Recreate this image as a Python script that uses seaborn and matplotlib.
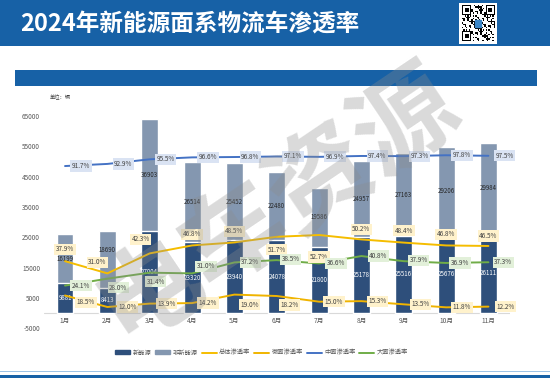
import numpy as np
import pandas as pd
import matplotlib
matplotlib.use('Agg')
import matplotlib.pyplot as plt
from matplotlib.patches import Rectangle, Patch
from matplotlib.lines import Line2D
import seaborn as sns

# ---------------- data ----------------
months = ['1月', '2月', '3月', '4月', '5月', '6月', '7月', '8月', '9月', '10月', '11月']
new_energy = [9881, 8413, 27004, 23320, 23940, 24078, 21800, 25178, 25516, 25676, 26111]
non_new_energy = [16199, 18690, 36903, 26514, 25452, 22480, 19586, 24957, 27163, 29206, 29984]
rate_total = [37.9, 31.0, 42.3, 46.8, 48.5, 51.7, 52.7, 50.2, 48.4, 46.8, 46.5]
rate_micro = [18.5, 12.0, 13.9, 14.2, 19.0, 18.2, 15.0, 15.3, 13.5, 11.8, 12.2]
rate_mid = [91.7, 92.9, 95.5, 96.6, 96.8, 97.1, 96.9, 97.4, 97.3, 97.8, 97.5]
rate_large = [24.1, 28.0, 31.4, 31.0, 37.2, 38.5, 36.6, 40.8, 37.9, 36.9, 37.3]
yticks = [-5000, 5000, 15000, 25000, 35000, 45000, 55000, 65000]
legend_labels = ['新能源', '非新能源', '总体渗透率', '微面渗透率', '中面渗透率', '大面渗透率']
title = '2024年新能源面系物流车渗透率'
unit = '单位：辆'
watermark = '电车资源'

# label offsets in pixels (dx right, dy up)
off_total = [(0, 12), (-10, 11), (-9, 14), (0, 11), (0, 11), (0, -13), (0, -22), (0, 10), (0, 12), (0, 11), (0, 10)]
off_micro = [(21, -7), (20, 0), (17, 0), (16, 0), (15, -10), (13, -9), (15, 0), (16, 0), (17, 0), (16, 0), (17, 0)]
off_mid = [(16, 0)] * 11
off_large = [(16, 0), (11, -9), (6, -9), (14, 7), (16, 0), (14, 1), (17, 0), (17, 0), (15, 1), (14, 0), (15, 0)]
off_nonlabel = [0, 9, 0, 0, 0, 0, 0, 0, 0, 0, 0]

# ---------------- style ----------------
sns.set_theme(style='white')
plt.rcParams['font.family'] = ['Noto Sans CJK SC', 'DejaVu Sans']
plt.rcParams['axes.unicode_minus'] = False

BLUE = '#1761a6'
DARK = '#2e4f7b'
LIGHT = '#8497b0'
YEL1 = '#f5bd00'
YEL2 = '#f0b400'
MIDC = '#4472c4'
GRN = '#70ad47'
TXT = '#595959'

W, H = 550, 378
fig = plt.figure(figsize=(W / 100, H / 100), dpi=100)

# background decorations
bg = fig.add_axes([0, 0, 1, 1], zorder=-5)
bg.set_xlim(0, W)
bg.set_ylim(H, 0)
bg.axis('off')
bg.add_patch(Rectangle((0, 0), W, 46, color=BLUE, lw=0))
bg.add_patch(Rectangle((15, 70), 522, 16, color=BLUE, lw=0))
bg.add_patch(Rectangle((0, 371), W, 1.2, color='#9dc3e6', lw=0))
bg.add_patch(Rectangle((0, 374.5), W, 4, color=BLUE, lw=0))
bg.text(20, 24, title, color='white', fontsize=17, fontweight='bold', va='center', ha='left')
bg.text(50, 97.5, unit, color='#404040', fontsize=3.8, va='center', ha='left')

# QR-like decoration
qa = fig.add_axes([459 / W, 1 - 44 / H, 38 / W, 41 / H])
n = 25
ii, jj = np.indices((n, n))
pat = (((ii * 7 + jj * 11 + (ii * jj) % 5) % 3) == 0).astype(float)
for (r, c) in [(0, 0), (0, n - 7), (n - 7, 0)]:
    pat[r:r + 7, c:c + 7] = 1
    pat[r + 1:r + 6, c + 1:c + 6] = 0
    pat[r + 2:r + 5, c + 2:c + 5] = 1
qa.add_patch(Rectangle((-3, -3), n + 6, n + 6, color='white', zorder=0))
qa.imshow(pat, cmap='gray_r', extent=(0, n, n, 0), interpolation='nearest', zorder=1, aspect='auto')
qa.add_patch(Rectangle((10, 10), 5, 5, color='#3a86c8', zorder=2))
qa.set_xlim(-2, n + 2)
qa.set_ylim(n + 2, -2)
qa.axis('off')

# main axes
left, right = 43.85, 509.6
bottom_px, top_px = 328.2, 116
ax = fig.add_axes([left / W, (H - bottom_px) / H, (right - left) / W, (bottom_px - top_px) / H])
ax.patch.set_alpha(0)

df = pd.DataFrame({'月份': months, '新能源': new_energy, '非新能源': non_new_energy})
df['总量'] = df['新能源'] + df['非新能源']

sns.barplot(data=df, x='月份', y='总量', order=months, color=LIGHT, saturation=1,
            width=0.4, errorbar=None, ax=ax, zorder=2)
sns.barplot(data=df, x='月份', y='新能源', order=months, color=DARK, saturation=1,
            width=0.4, errorbar=None, ax=ax, zorder=3)
ax.set_xlim(-0.5, 10.5)
ax.set_ylim(-5000, 65000)
ax.axhline(0, color='#d9d9d9', lw=0.8, zorder=1)
for s in ax.spines.values():
    s.set_visible(False)
ax.set_yticks(yticks)
ax.set_yticklabels([str(v) for v in yticks])
ax.tick_params(axis='y', length=0, pad=2.8, labelsize=4.6, labelcolor=TXT)
ax.set_xticks([])
ax.set_xlabel('')
ax.set_ylabel('')
for i, m in enumerate(months):
    ax.text(i, -2700, m, ha='center', va='center', fontsize=4.8, color=TXT)

for i, (ne, nn) in enumerate(zip(new_energy, non_new_energy)):
    ax.text(i, ne / 2, str(ne), ha='center', va='center', fontsize=4.4, color='white', zorder=4)
    ax.annotate(str(nn), xy=(i, ne + nn / 2), xytext=(0, off_nonlabel[i] * 0.72),
                textcoords='offset points', ha='center', va='center', fontsize=4.4,
                color='#262626', zorder=4)

# secondary axis for rates
ax2 = ax.twinx()
ax2.set_ylim(0, 120)
ax2.set_yticks([])
ax2.set_ylabel('')
for s in ax2.spines.values():
    s.set_visible(False)
idx = np.arange(len(months))
series = [
    (rate_total, YEL1, '#fff2cc', off_total),
    (rate_micro, YEL2, '#fff2cc', off_micro),
    (rate_mid, MIDC, '#dae3f3', off_mid),
    (rate_large, GRN, '#e2f0d9', off_large),
]
for vals, col, fc, offs in series:
    sns.lineplot(x=idx, y=vals, ax=ax2, color=col, lw=1.4, legend=False)
    for i, v in enumerate(vals):
        dx, dy = offs[i]
        ax2.annotate(f'{v:.1f}%', xy=(i, v), xytext=(dx * 0.72, dy * 0.72), textcoords='offset points',
                     ha='center', va='center', fontsize=4.6, color='#404040', zorder=6,
                     bbox=dict(boxstyle='square,pad=0.25', fc=fc, ec='none'))
ax2.set_xlim(-0.5, 10.5)

# legend
handles = [Patch(color=DARK), Patch(color=LIGHT),
           Line2D([], [], color=YEL1, lw=1.4), Line2D([], [], color=YEL2, lw=1.4),
           Line2D([], [], color=MIDC, lw=1.4), Line2D([], [], color=GRN, lw=1.4)]
leg = fig.legend(handles, legend_labels, loc='center', bbox_to_anchor=(0.4755, 0.067), ncol=6,
                 frameon=False, fontsize=4.5, handlelength=2.4, handleheight=0.6,
                 columnspacing=0.6, handletextpad=0.4)
for t in leg.get_texts():
    t.set_color(TXT)

# watermark
fig.text(278 / W, 1 - 204 / H, watermark, rotation=34, fontsize=74, fontweight='bold',
         color='#8c8c8c', alpha=0.32, ha='center', va='center', rotation_mode='anchor', zorder=20)

fig.savefig('out.png', dpi=100)
